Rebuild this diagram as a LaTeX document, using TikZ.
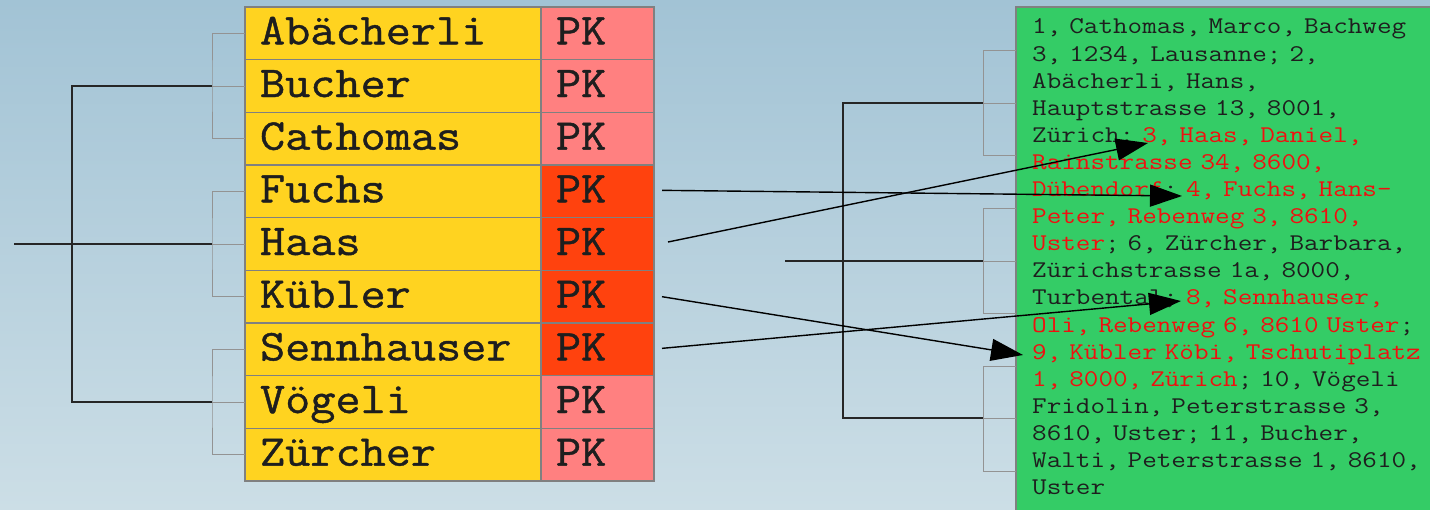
\documentclass[tikz,border=0pt]{standalone}
\usepackage{fontspec}
\newfontfamily\cellfont{Latin Modern Mono}[FakeStretch=1.11,FakeBold=1]
\newfontfamily\addrfont{Latin Modern Mono}[FakeStretch=1.18]
\newcommand\monospaces{\fontdimen2\font=\fontcharwd\font`\x\relax\fontdimen3\font=0pt\relax\fontdimen4\font=0pt\relax}
\usetikzlibrary{arrows.meta}
\definecolor{bgtop}{RGB}{162,195,213}
\definecolor{bgbot}{RGB}{204,222,230}
\definecolor{cellyellow}{RGB}{255,211,32}
\definecolor{pkpink}{RGB}{255,128,128}
\definecolor{pkhot}{RGB}{255,66,14}
\definecolor{boxgreen}{RGB}{52,204,102}
\definecolor{gridgray}{RGB}{128,128,128}
\definecolor{txtred}{RGB}{240,16,16}
\definecolor{inkdark}{RGB}{30,30,30}
\tikzset{
  cellbase/.style={rectangle, draw=gridgray, line width=1.6pt, minimum height=52.67pt,
    outer sep=0pt, inner ysep=0pt, inner xsep=15pt, align=left, text height=28pt, text depth=6pt,
    font=\cellfont\fontsize{44}{48}\selectfont, text=inkdark, anchor=north west},
  namecell/.style={cellbase, fill=cellyellow, text width=266pt},
  pkcell/.style={cellbase, fill=pkpink, text width=83pt},
  pkhotcell/.style={cellbase, fill=pkhot, text width=83pt},
  grayline/.style={draw=gridgray!85, line width=0.9pt},
  blackline/.style={draw=black!85, line width=1.2pt},
  linkarrow/.style={draw=black, line width=1.4pt, -{Triangle[length=32pt,width=22pt]}},
}
\begin{document}
\begin{tikzpicture}[x=1pt,y=-1pt]
\useasboundingbox (0,0) rectangle (1430,510);
\shade[top color=bgtop, bottom color=bgbot] (0,0) rectangle (1430,510);

% left table
\node[namecell] (n1) at (245,7) {Abächerli};
\node[pkcell] (p1) at (n1.north east) {PK};
\node[namecell] (n2) at (n1.south west) {Bucher};
\node[pkcell] (p2) at (n2.north east) {PK};
\node[namecell] (n3) at (n2.south west) {Cathomas};
\node[pkcell] (p3) at (n3.north east) {PK};
\node[namecell] (n4) at (n3.south west) {Fuchs};
\node[pkhotcell] (p4) at (n4.north east) {PK};
\node[namecell] (n5) at (n4.south west) {Haas};
\node[pkhotcell] (p5) at (n5.north east) {PK};
\node[namecell] (n6) at (n5.south west) {Kübler};
\node[pkhotcell] (p6) at (n6.north east) {PK};
\node[namecell] (n7) at (n6.south west) {Sennhauser};
\node[pkhotcell] (p7) at (n7.north east) {PK};
\node[namecell] (n8) at (n7.south west) {Vögeli};
\node[pkcell] (p8) at (n8.north east) {PK};
\node[namecell] (n9) at (n8.south west) {Zürcher};
\node[pkcell] (p9) at (n9.north east) {PK};

% left dendrogram
\coordinate (j1) at ([xshift=-33pt]n2.west);
\coordinate (j2) at ([xshift=-33pt]n5.west);
\coordinate (j3) at ([xshift=-33pt]n8.west);
\coordinate (k) at ([xshift=-173pt]n5.west);
\coordinate (root) at ([xshift=-231pt]n5.west);
\draw[grayline] (n1.west) -| (j1) |- (n3.west);
\draw[grayline] (j1) -- (n2.west);
\draw[grayline] (n4.west) -| (j2) |- (n6.west);
\draw[grayline] (j2) -- (n5.west);
\draw[grayline] (n7.west) -| (j3) |- (n9.west);
\draw[grayline] (j3) -- (n8.west);
\draw[blackline] (j1) -| (k) |- (j3);
\draw[blackline] (root) -- (j2);

% right box
\node[rectangle, draw=gridgray, line width=1.4pt, fill=boxgreen, anchor=north west,
      minimum width=430pt, minimum height=520pt, inner sep=0pt, outer sep=0pt] (gbox) at (1016,7) {};
\node[anchor=base west, inner sep=0pt, align=left, text width=408pt, text=inkdark,
      font=\addrfont\fontsize{24}{27.1}\selectfont\monospaces] (addr) at (1032,34) {%
1, Cathomas, Marco, Bachweg\\
3, 1234, Lausanne; 2,\\
Abächerli, Hans,\\
Hauptstrasse 13, 8001,\\
Zürich; \textcolor{txtred}{3, Haas, Daniel,}\\
\textcolor{txtred}{Rainstrasse 34, 8600,}\\
\textcolor{txtred}{Dübendorf}; \textcolor{txtred}{4, Fuchs, Hans-}\\
\textcolor{txtred}{Peter, Rebenweg 3, 8610,}\\
\textcolor{txtred}{Uster}; 6, Zürcher, Barbara,\\
Zürichstrasse 1a, 8000,\\
Turbental; \textcolor{txtred}{8, Sennhauser,}\\
\textcolor{txtred}{Oli, Rebenweg 6, 8610 Uster};\\
\textcolor{txtred}{9, Kübler Köbi, Tschutiplatz}\\
\textcolor{txtred}{1, 8000, Zürich}; 10, Vögeli\\
Fridolin, Peterstrasse 3,\\
8610, Uster; 11, Bucher,\\
Walti, Peterstrasse 1, 8610,\\
Uster};

% right dendrogram
\coordinate (r1) at (1016,50);
\coordinate (r2) at (1016,103);
\coordinate (r3) at (1016,155);
\coordinate (r4) at (1016,208);
\coordinate (r5) at (1016,261);
\coordinate (r6) at (1016,313);
\coordinate (r7) at (1016,366);
\coordinate (r8) at (1016,418);
\coordinate (r9) at (1016,471);
\coordinate (m1) at (983,103);
\coordinate (m2) at (983,261);
\coordinate (m3) at (983,418);
\coordinate (q) at (843,261);
\coordinate (qroot) at (785,261);
\draw[grayline] (r1) -| (m1) |- (r3);
\draw[grayline] (m1) -- (r2);
\draw[grayline] (r4) -| (m2) |- (r6);
\draw[grayline] (m2) -- (r5);
\draw[grayline] (r7) -| (m3) |- (r9);
\draw[grayline] (m3) -- (r8);
\draw[blackline] (m1) -| (q) |- (m3);
\draw[blackline] (qroot) -- (m2);

% arrows
\coordinate (t4) at (1182,196);
\coordinate (t5) at (1148,143);
\coordinate (t6) at (1023,355);
\coordinate (t7) at (1181,301);
\draw[linkarrow] ([shift={(8pt,1pt)}]p4.east) -- (t4);
\draw[linkarrow] ([shift={(14pt,2pt)}]p5.east) -- (t5);
\draw[linkarrow] ([shift={(8pt,0pt)}]p6.east) -- (t6);
\draw[linkarrow] ([shift={(8pt,1pt)}]p7.east) -- (t7);
\end{tikzpicture}
\end{document}
